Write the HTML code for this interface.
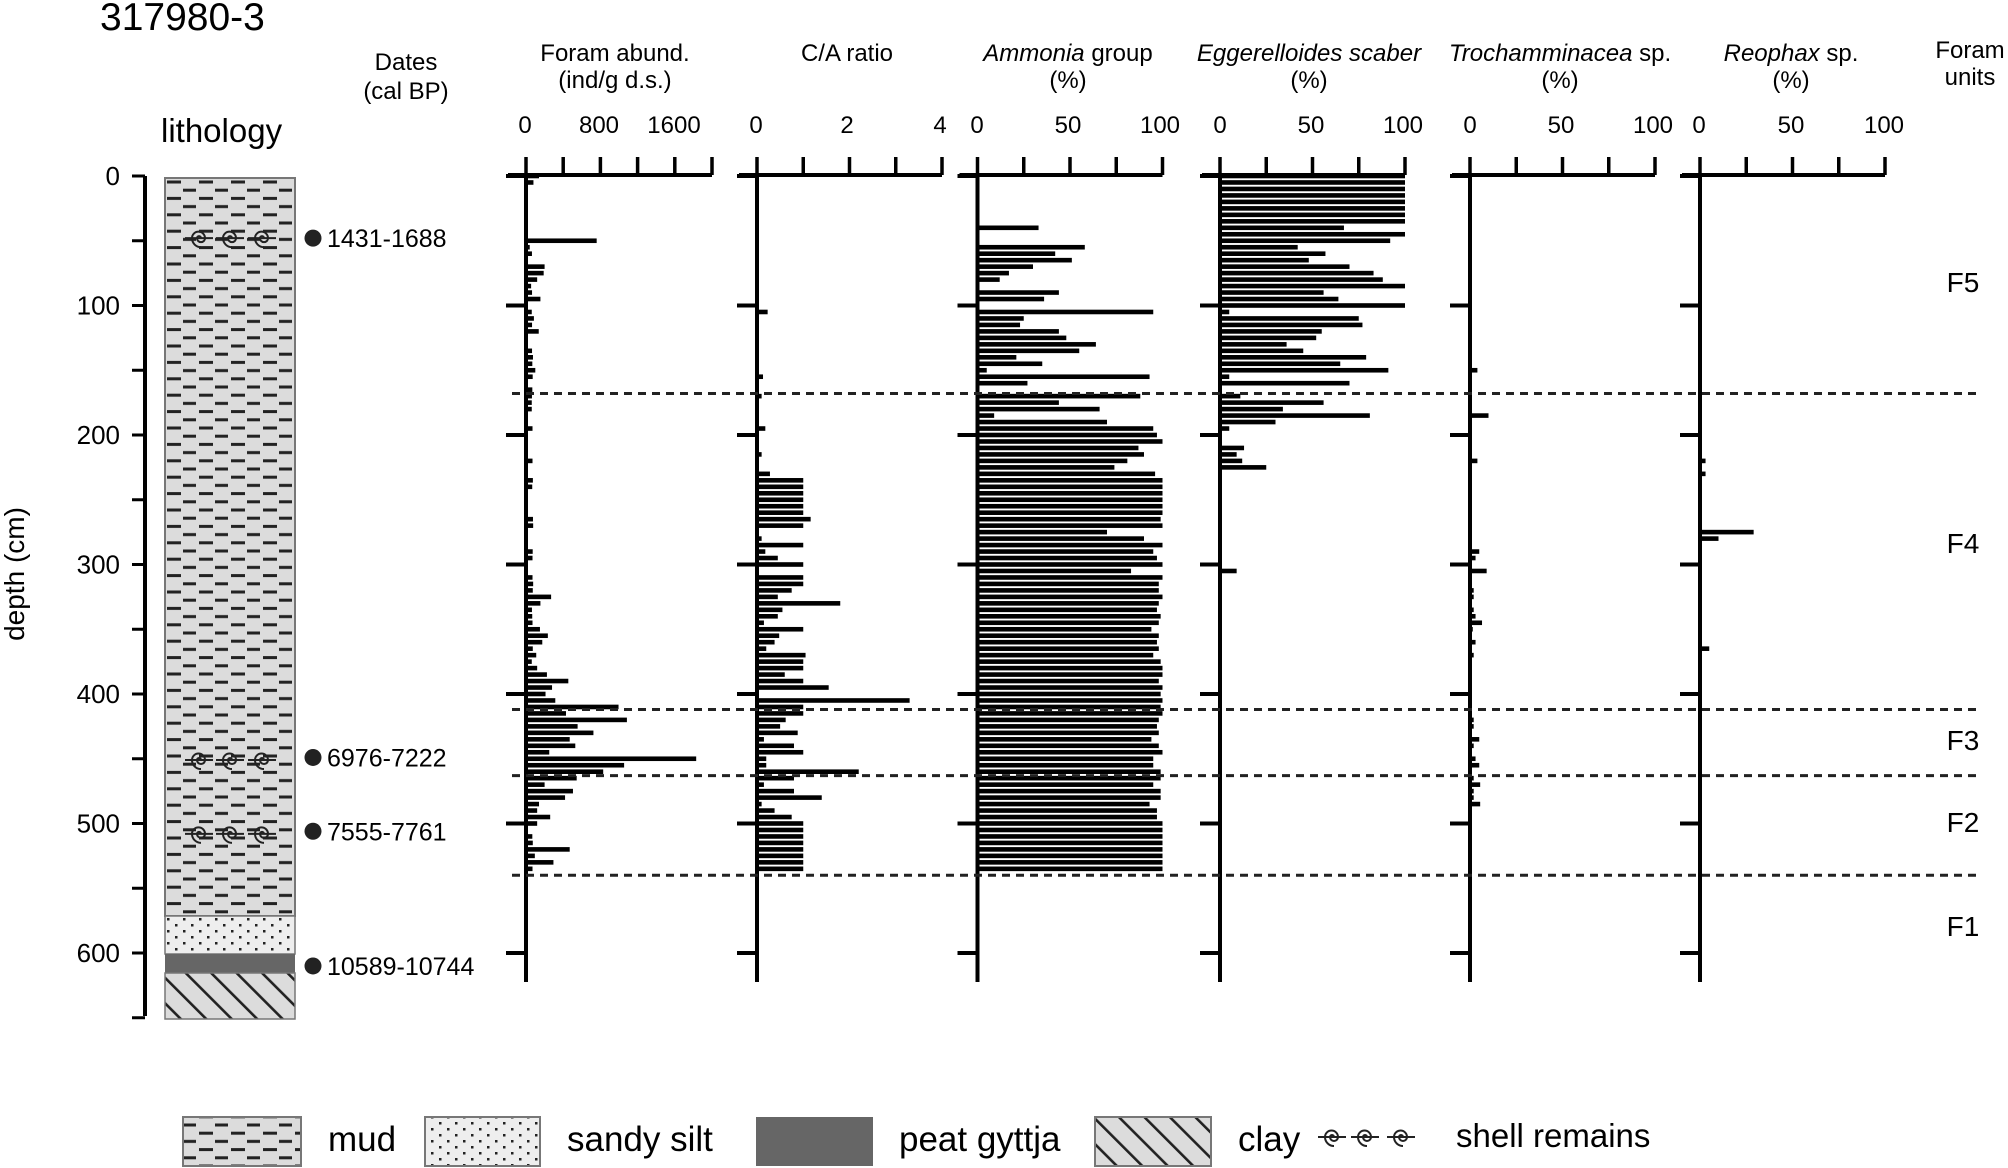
<!DOCTYPE html>
<html><head><meta charset="utf-8"><style>
html,body{margin:0;padding:0;background:#fff;}
svg{display:block;font-family:"Liberation Sans",Arial,sans-serif;}
</style></head><body>
<svg id="chart" width="2008" height="1168" viewBox="0 0 2008 1168" xmlns="http://www.w3.org/2000/svg">
<defs>
<pattern id="mudPat" patternUnits="userSpaceOnUse" x="165" y="178" width="32" height="16.4">
<rect width="32" height="16.4" fill="#dcdcdc"/>
<rect x="2" y="2.5" width="14" height="3" fill="#222"/>
<rect x="18" y="10.7" width="13" height="3" fill="#222"/>
</pattern>
<pattern id="sandPat" patternUnits="userSpaceOnUse" x="165" y="916" width="16" height="12">
<rect width="16" height="12" fill="#eeeeee"/>
<rect x="2" y="2" width="2.5" height="2.5" fill="#222"/>
<rect x="10" y="8" width="2.5" height="2.5" fill="#222"/>
</pattern>
<pattern id="clayPat" patternUnits="userSpaceOnUse" width="18" height="18" patternTransform="rotate(-45)">
<rect width="18" height="18" fill="#dcdcdc"/>
<rect x="0" y="0" width="2.6" height="18" fill="#222"/>
</pattern>
</defs>
<g id="static">
<text x="100" y="30" font-size="39">317980-3</text>
<text x="406" y="70" font-size="24" text-anchor="middle">Dates</text>
<text x="406" y="99" font-size="24" text-anchor="middle">(cal BP)</text>
<text x="161" y="142" font-size="33">lithology</text>
<text transform="translate(24,574) rotate(-90)" font-size="28" text-anchor="middle">depth (cm)</text>
<text x="615" y="61" font-size="24" text-anchor="middle">Foram abund.</text>
<text x="615" y="88" font-size="24" text-anchor="middle">(ind/g d.s.)</text>
<text x="847" y="61" font-size="24" text-anchor="middle">C/A ratio</text>
<text x="1068" y="61" font-size="24" text-anchor="middle"><tspan font-style="italic">Ammonia</tspan> group</text>
<text x="1068" y="88" font-size="24" text-anchor="middle">(%)</text>
<text x="1309" y="61" font-size="24" text-anchor="middle" font-style="italic">Eggerelloides scaber</text>
<text x="1309" y="88" font-size="24" text-anchor="middle">(%)</text>
<text x="1560" y="61" font-size="24" text-anchor="middle"><tspan font-style="italic">Trochamminacea</tspan> sp.</text>
<text x="1560" y="88" font-size="24" text-anchor="middle">(%)</text>
<text x="1791" y="61" font-size="24" text-anchor="middle"><tspan font-style="italic">Reophax</tspan> sp.</text>
<text x="1791" y="88" font-size="24" text-anchor="middle">(%)</text>
<text x="1970" y="58" font-size="24" text-anchor="middle">Foram</text>
<text x="1970" y="85" font-size="24" text-anchor="middle">units</text>
<rect x="165" y="178" width="130" height="738" fill="url(#mudPat)" stroke="#777" stroke-width="2"/>
<rect x="165" y="916" width="130" height="38" fill="url(#sandPat)" stroke="#777" stroke-width="1.5"/>
<rect x="165" y="954" width="130" height="19" fill="#666"/>
<rect x="165" y="973" width="130" height="46" fill="url(#clayPat)" stroke="#777" stroke-width="1.5"/>
<rect x="183" y="1117" width="118" height="49" fill="url(#mudPat)" stroke="#777" stroke-width="2"/>
<text x="328" y="1151" font-size="35">mud</text>
<rect x="425" y="1117" width="115" height="49" fill="url(#sandPat)" stroke="#777" stroke-width="2"/>
<text x="567" y="1151" font-size="35">sandy silt</text>
<rect x="756" y="1117" width="117" height="49" fill="#666"/>
<text x="899" y="1151" font-size="35">peat gyttja</text>
<rect x="1095" y="1117" width="116" height="49" fill="url(#clayPat)" stroke="#777" stroke-width="2"/>
<text x="1238" y="1151" font-size="35">clay</text>
<text x="1456" y="1147" font-size="33">shell remains</text>
<text x="1963" y="292" font-size="28" text-anchor="middle">F5</text>
<text x="1963" y="553" font-size="28" text-anchor="middle">F4</text>
<text x="1963" y="750" font-size="28" text-anchor="middle">F3</text>
<text x="1963" y="832" font-size="28" text-anchor="middle">F2</text>
<text x="1963" y="936" font-size="28" text-anchor="middle">F1</text>
</g>
<g id="dyn"></g>
</svg>
<script>
const depths = [0,5,10,15,20,25,30,35,40,45,50,55,60,65,70,75,80,85,90,95,100,105,110,115,120,125,130,135,140,145,150,155,160,165,170,175,180,185,190,195,200,205,210,215,220,225,230,235,240,245,250,255,260,265,270,275,280,285,290,295,300,305,310,315,320,325,330,335,340,345,350,355,360,365,370,375,380,385,390,395,400,405,410,415,420,425,430,435,440,445,450,455,460,465,470,475,480,485,490,495,500,505,510,515,520,525,530,535];
const foramAbund = [140,80,15,15,15,15,15,15,15,15,760,40,64,15,200,190,120,55,65,155,15,62,85,65,137,15,15,65,75,68,100,72,15,68,64,62,62,15,15,70,15,15,15,15,70,15,15,74,67,15,15,15,15,75,77,15,15,15,72,70,15,15,70,77,73,270,155,64,67,70,150,235,175,73,110,62,120,225,455,280,210,315,995,430,1085,555,725,470,530,250,1830,1055,830,545,200,505,420,140,120,260,120,15,68,73,470,95,295,70];
const caRatio = [0.02,0.02,0.02,0.02,0.02,0.02,0.02,0.02,0.02,0.02,0.02,0.02,0.02,0.02,0.02,0.02,0.02,0.02,0.02,0.02,0.02,0.23,0.02,0.02,0.02,0.02,0.02,0.02,0.02,0.02,0.02,0.13,0.02,0.02,0.1,0.02,0.02,0.02,0.02,0.18,0.02,0.02,0.02,0.1,0.02,0.02,0.28,1,1,1,1,1,1,1.16,1,0.02,0.1,1,0.18,0.45,1,0.02,1,1,0.75,0.45,1.8,0.55,0.45,0.15,1,0.48,0.38,0.2,1.05,1,1,0.6,1,1.55,0.02,3.3,1,1,0.62,0.5,0.88,0.15,0.8,1,0.2,0.2,2.2,0.8,0.15,0.8,1.4,0.1,0.38,0.75,1,1,1,1,1,1,1,1];
const ammonia = [0,0,0,0,0,0,0,0,33,0,1,58,42,51,30,17,12,0,44,36,0,95,25,23,44,48,64,55,21,35,5,93,27,0,88,44,66,9,70,95,97,100,87,90,81,74,96,100,100,100,100,100,100,99,100,70,90,100,95,97,100,83,100,98,98,100,98,97,99,98,94,98,97,98,95,99,100,100,98,100,99,100,99,100,98,97,98,94,98,100,95,95,99,99,95,99,99,93,97,97,100,100,100,100,100,100,100,100];
const eggerelloides = [100,100,100,100,100,100,100,100,67,100,92,42,57,48,70,83,88,100,56,64,100,5,75,77,55,52,36,45,79,65,91,5,70,0,11,56,34,81,30,5,0,0,13,9,12,25,0,0,0,0,0,0,0,0,0,0,0,0,0,0,0,9,0,0,0,0,0,0,0,0,0,0,0,0,0,0,0,0,0,0,0,0,0,0,0,0,0,0,0,0,0,0,0,0,0,1,0,0,0,0,0,0,0,0,0,0,0,0];
const trochamminacea = [0,0,0,0,0,0,0,0,0,0,0,0,0,0,0,0,0,0,0,0,0,0,0,0,0,0,0,0,0,0,4,0,0,0,0,0,0,10,0,0,0,0,0,0,4,0,0,0,0,0,0,0,0,0,0,0,0,0,5,3,0,9,0,0,2,2,0,2,3,6.5,1.5,0,3,0,2,0,0,0,0,0,0,0,0,0,2,2,0,5,2,0,3,5,0,2,5.5,2,2,5.5,0,0,0,0,0,0,0,0,0,0];
const reophax = [0,0,0,0,0,0,0,0,0,0,0,0,0,0,0,0,0,0,0,0,0,0,0,0,0,0,0,0,0,0,0,0,1,0,0,0,0,0,0,0,0,0,0,0,3,0,3,0,0,0,0,0,0,0,0,29,10,0,0,0,0,0,0,0,0,0,0,0,0,0,0,0,0,5,0,0,0,0,0,0,0,0,0,0,0,0,0,0,0,0,0,0,0,0,0,0,0,0,0,0,0,0,0,0,0,0,0,0];
const depthTicks = [0,100,200,300,400,500,600];
const unitBoundaries = [168,412,463,540];
const dateLabels = ["1431-1688","6976-7222","7555-7761","10589-10744"];
const dateDepths = [48,449,506,610];
const shellDepths = [48,451,508];

const NS = "http://www.w3.org/2000/svg";
const dyn = document.getElementById("dyn");
function yOf(d){ return 176 + d*1.295; }
function mk(tag, attrs, parent){
  const e = document.createElementNS(NS, tag);
  for (const k in attrs) e.setAttribute(k, attrs[k]);
  (parent||dyn).appendChild(e);
  return e;
}

let ax = mk("line",{x1:145,y1:176,x2:145,y2:1016,stroke:"#000","stroke-width":4});


for (let d=0; d<=650; d+=50){
  const t = mk("line",{x1:132,y1:yOf(d),x2:145,y2:yOf(d),stroke:"#000","stroke-width":3});
  
  
}
depthTicks.forEach(d=>{
  const t = mk("text",{x:120,y:yOf(d)+9,"font-size":26,"text-anchor":"end"});
  t.textContent = d;
  
  
});

dateLabels.forEach((lab,i)=>{
  const y = yOf(dateDepths[i]);
  const c = mk("circle",{cx:313,cy:y,r:8.5,fill:"#222"});
  
  
  const t = mk("text",{x:327,y:y+9,"font-size":25});
  t.textContent = lab;
  
  
});
function shell(cx,cy,name){
  const g = mk("g",{});
  
  
  mk("path",{d:`M${cx+2},${cy} a2,2 0 1,0 -4,0 a4,4 0 1,0 8,0 a6.5,6.5 0 1,0 -13,0 a9,9 0 0,0 9,9`,fill:"none",stroke:"#222","stroke-width":2},g);
  mk("line",{x1:cx-14,y1:cy,x2:cx+14,y2:cy,stroke:"#222","stroke-width":2},g);
}
shellDepths.forEach(d=>{ [199,230,262].forEach(x=>shell(x,yOf(d),'shell-symbol')); });
[1332,1365,1401].forEach(x=>shell(x,1137,'legend-shell-symbol'));

const panels = [
  {name:"foram-abund", x0:526, x1:712, max:2000, ticks:6, labels:[[0,"0"],[800,"800"],[1600,"1600"]], data:foramAbund, lx:[525,599,674]},
  {name:"ca-ratio", x0:757, x1:942, max:4, ticks:5, labels:[[0,"0"],[2,"2"],[4,"4"]], data:caRatio, lx:[756,847,940]},
  {name:"ammonia", x0:977.5, x1:1162.5, max:100, ticks:5, labels:[[0,"0"],[50,"50"],[100,"100"]], data:ammonia, lx:[977,1068,1160]},
  {name:"eggerelloides", x0:1220, x1:1405, max:100, ticks:5, labels:[[0,"0"],[50,"50"],[100,"100"]], data:eggerelloides, lx:[1220,1311,1403]},
  {name:"trochamminacea", x0:1470, x1:1655, max:100, ticks:5, labels:[[0,"0"],[50,"50"],[100,"100"]], data:trochamminacea, lx:[1470,1561,1653]},
  {name:"reophax", x0:1700, x1:1885, max:100, ticks:5, labels:[[0,"0"],[50,"50"],[100,"100"]], data:reophax, lx:[1699,1791,1884]}
];
panels.forEach(p=>{
  const g = mk("g",{});
  
  
  const sx = v => p.x0 + (v/p.max)*(p.x1-p.x0);
  p.data.forEach((v,i)=>{
    if (v<=0) return;
    const r = mk("rect",{x:p.x0, y:yOf(depths[i])-2.3, width:Math.max(1.5,sx(v)-p.x0), height:4.6, fill:"#000"}, g);
    
    
  });
  const top = mk("line",{x1:p.x0-18,y1:175,x2:p.x1,y2:175,stroke:"#000","stroke-width":4},g);
  
  
  for (let i=0;i<p.ticks;i++){
    const x = p.x0 + i*(p.x1-p.x0)/(p.ticks-1);
    const t = mk("line",{x1:x,y1:157,x2:x,y2:175,stroke:"#000","stroke-width":3.5},g);
    
    
  }
  p.labels.forEach((l,i)=>{
    const t = mk("text",{x:p.lx[i],y:133,"font-size":24,"text-anchor":"middle"},g);
    t.textContent = l[1];
    
    
  });
  const v = mk("line",{x1:p.x0,y1:175,x2:p.x0,y2:982,stroke:"#000","stroke-width":4},g);
  
  
  depthTicks.forEach(d=>{
    const t = mk("line",{x1:p.x0-20,y1:yOf(d),x2:p.x0,y2:yOf(d),stroke:"#000","stroke-width":4},g);
    
    
  });
});

unitBoundaries.forEach(d=>{
  const l = mk("line",{x1:512,y1:yOf(d),x2:1982,y2:yOf(d),stroke:"#222","stroke-width":3,"stroke-dasharray":"8 6"});
  
  
});
</script>
</body></html>
